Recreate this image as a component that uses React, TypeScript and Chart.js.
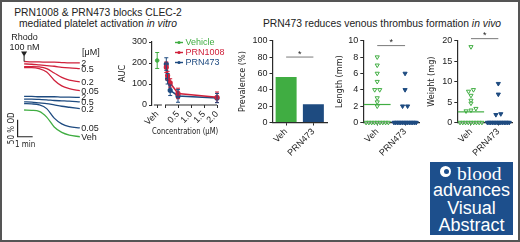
import React, { useEffect, useRef } from 'react';
import { Chart, registerables } from 'chart.js';

Chart.register(...registerables);

const GREEN = '#40ad42';
const RED = '#d0213b';
const BLUE = '#1e4b80';
const GREY = '#7a7a7a';
const AXIS = '#2b2b2b';
const TEXT = '#222222';
const SANS = '"Liberation Sans", Arial, Helvetica, sans-serif';
const NARROW = '"Liberation Sans Narrow", "DejaVu Sans Condensed", "Roboto Condensed", "Liberation Sans", sans-serif';

// ---------- Panel 1: aggregation traces (OD %, traces offset vertically) ----------
const traceTime = [0, 0.5, 1, 1.5, 2, 2.5, 3, 3.7]; // min after rhodocytin
const prn1008At2 = [267, 266, 266, 265, 265, 264, 263, 263];
const prn1008At05 = [260, 259, 257, 255, 253, 250, 248, 246];
const prn1008At02 = [252, 252, 251, 246, 233, 220, 212, 207];
const prn1008At005 = [249, 249, 246, 236, 212, 195, 187, 181];
const prn473At2 = [164, 164, 163, 163, 163, 162, 162, 161];
const prn473At05 = [156, 156, 155, 154, 152, 151, 150, 148];
const prn473At02 = [148, 147, 145, 143, 139, 135, 132, 128];
const prn473At005 = [143, 142, 139, 128, 100, 83, 75, 71];
const vehicleTrace = [124, 123, 120, 103, 74, 58, 50, 45];
const traceLabels = ['2', '0.5', '0.2', '0.05', '2', '0.5', '0.2', '0.05', 'Veh'];
const scaleBarMinutes = 1;
const scaleBarOD = 50;
const scaleBarBaseOD = 45;

// ---------- Panel 2: AUC vs concentration ----------
const aucConc = [0.05, 0.1, 0.2, 0.5, 2.0];
const aucPRN1008 = [180, 140, 105, 55, 37];
const aucPRN1008SD = [25, 20, 20, 25, 25];
const aucPRN473 = [195, 125, 70, 43, 33];
const aucPRN473SD = [30, 25, 25, 30, 22];
const aucVehicle = [212];
const aucVehicleSD = [38];
const aucVehPos = -0.3;
const aucXTicks = [-0.3, 0, 0.5, 1.0, 1.5, 2.0];
const aucXTickLabels = ['Veh', '', '0.5', '1.0', '1.5', '2.0'];

// ---------- Panels 3-5: in vivo ----------
const groups = ['Veh', 'PRN473'];
const prevalence = [55.6, 22.2];
const prevalenceSig = 80;
const lengthVeh = [8, 7, 6, 5, 4, 4, 3, 2.5, 2, 0, 0, 0, 0, 0, 0, 0, 0, 0];
const lengthPRN473 = [6, 4, 2, 2, 0, 0, 0, 0, 0, 0, 0, 0, 0, 0, 0, 0, 0, 0];
const lengthMeans = [2.2, 0];
const lengthSig = 9.4;
const weightVeh = [18.5, 8.0, 7.6, 6.6, 5.4, 4.7, 3.4, 3.0, 2.8, 0, 0, 0, 0, 0, 0, 0, 0, 0];
const weightPRN473 = [9.5, 6.9, 2.1, 1.9, 0, 0, 0, 0, 0, 0, 0, 0, 0, 0, 0, 0, 0, 0];
const weightMeans = [2.6, 0];
const weightSig = 20.5;

// ---------- helpers ----------
const tickFont = { size: 9, family: SANS };
const titleFont = { size: 9, family: NARROW };

function gridOpts() {
  return { display: true, drawOnChartArea: false, drawTicks: true, tickLength: 3, color: AXIS, tickColor: AXIS, tickWidth: 1 };
}

function yAxis(min: number, max: number, step: number, title: string, titlePad: number, width: number) {
  return {
    type: 'linear', min, max,
    ticks: { stepSize: step, color: TEXT, font: tickFont, padding: 2 },
    grid: gridOpts(),
    border: { display: true, color: AXIS, width: 1.2 },
    title: { display: true, text: title, color: TEXT, font: titleFont, padding: { top: titlePad, bottom: 0 } },
    afterFit: (s: any) => { s.width = width; },
  };
}

function groupXAxis(height: number) {
  return {
    type: 'linear', min: -0.5, max: 1.5,
    afterBuildTicks: (s: any) => { s.ticks = groups.map((_, i) => ({ value: i })); },
    ticks: { autoSkip: false, minRotation: 45, maxRotation: 45, padding: 1, color: TEXT, font: tickFont,
      callback: (v: any) => groups[v] ?? '' },
    grid: gridOpts(),
    border: { display: true, color: AXIS, width: 1.2 },
    afterFit: (s: any) => { s.height = height; },
  };
}

function swarm(values: number[], thresh: number) {
  const idx = values.map((_, i) => i).sort((a, b) => values[a] - values[b]);
  const out = new Array(values.length).fill(0);
  let row: number[] = [];
  const flush = () => {
    const n = row.length;
    const step = n > 1 ? Math.min(0.18, 0.8 / (n - 1)) : 0;
    row.forEach((id, k) => { out[id] = (k - (n - 1) / 2) * step; });
    row = [];
  };
  idx.forEach((id) => {
    if (row.length && values[id] - values[row[0]] > thresh) flush();
    row.push(id);
  });
  flush();
  return out;
}

function sigPlugin(value: number) {
  return {
    id: 'sig',
    afterDatasetsDraw(chart: any) {
      const { ctx, scales: { x, y } } = chart;
      const x0 = x.getPixelForValue(0);
      const x1 = x.getPixelForValue(1);
      const yy = y.getPixelForValue(value);
      ctx.save();
      ctx.strokeStyle = GREY;
      ctx.lineWidth = 1;
      ctx.beginPath();
      ctx.moveTo(x0, yy);
      ctx.lineTo(x1, yy);
      ctx.stroke();
      ctx.fillStyle = TEXT;
      ctx.font = `9px ${SANS}`;
      ctx.textAlign = 'center';
      ctx.textBaseline = 'middle';
      ctx.fillText('*', (x0 + x1) / 2, yy - 3);
      ctx.restore();
    },
  };
}

function meanPlugin(means: number[]) {
  return {
    id: 'means',
    afterDatasetsDraw(chart: any) {
      const { ctx, scales: { x, y } } = chart;
      ctx.save();
      ctx.lineWidth = 1.2;
      means.forEach((m, i) => {
        ctx.strokeStyle = i === 0 ? GREEN : BLUE;
        const yy = y.getPixelForValue(m);
        ctx.beginPath();
        ctx.moveTo(x.getPixelForValue(i - 0.48), yy);
        ctx.lineTo(x.getPixelForValue(i + 0.48), yy);
        ctx.stroke();
      });
      ctx.restore();
    },
  };
}

function ChartBox({ left, top, width, height, make }: { left: number; top: number; width: number; height: number; make: () => any }) {
  const ref = useRef<HTMLCanvasElement>(null);
  useEffect(() => {
    const chart = new Chart(ref.current as HTMLCanvasElement, make());
    return () => chart.destroy();
  }, []);
  return (
    <canvas ref={ref} width={width} height={height}
      style={{ position: 'absolute', left, top, width, height }} />
  );
}

const baseOptions = {
  animation: false,
  responsive: false,
  devicePixelRatio: 1,
  events: [],
  plugins: { legend: { display: false }, tooltip: { enabled: false } },
};

// ---------- chart factories ----------
function makeTraces() {
  const series = [
    [prn1008At2, RED], [prn1008At05, RED], [prn1008At02, RED], [prn1008At005, RED],
    [prn473At2, BLUE], [prn473At05, BLUE], [prn473At02, BLUE], [prn473At005, BLUE],
    [vehicleTrace, GREEN],
  ] as [number[], string][];
  const decor = {
    id: 'traceDecor',
    afterDatasetsDraw(chart: any) {
      const { ctx, scales: { x, y } } = chart;
      ctx.save();
      ctx.fillStyle = TEXT;
      ctx.font = `9px ${SANS}`;
      ctx.textBaseline = 'middle';
      ctx.textAlign = 'left';
      chart.data.datasets.forEach((_: any, i: number) => {
        const meta = chart.getDatasetMeta(i);
        const last = meta.data[meta.data.length - 1];
        ctx.fillText(traceLabels[i], last.x + 1.5, last.y + 0.5);
      });
      const x0 = x.getPixelForValue(0);
      const topY = y.getPixelForValue(prn1008At2[0]);
      ctx.fillText('[\u03bcM]', x0 + 58, topY - 9);
      ctx.textAlign = 'center';
      ctx.fillText('Rhodo', x0 + 0.5, topY - 24.5);
      ctx.fillText('100 nM', x0 + 0.5, topY - 14.5);
      ctx.beginPath();
      ctx.moveTo(x0 - 3, topY - 10);
      ctx.lineTo(x0 + 3, topY - 10);
      ctx.lineTo(x0, topY - 5);
      ctx.closePath();
      ctx.fill();
      ctx.fillRect(x0 - 0.5, topY - 6, 1, 6);
      // scale bar
      const bx = x0 - 6.5;
      const bBottom = y.getPixelForValue(scaleBarBaseOD);
      const bTop = y.getPixelForValue(scaleBarBaseOD + scaleBarOD);
      const bRight = x.getPixelForValue(x.getValueForPixel(bx) + scaleBarMinutes);
      ctx.strokeStyle = TEXT;
      ctx.lineWidth = 1.2;
      ctx.beginPath();
      ctx.moveTo(bx, bTop);
      ctx.lineTo(bx, bBottom);
      ctx.lineTo(bRight, bBottom);
      ctx.stroke();
      ctx.font = `8px ${NARROW}`;
      ctx.fillText('1 min', (bx + bRight) / 2, bBottom + 8);
      ctx.translate(bx - 5.5, (bTop + bBottom) / 2);
      ctx.rotate(-Math.PI / 2);
      ctx.fillText('50 % OD', 0, 0);
      ctx.restore();
    },
  };
  return {
    type: 'line',
    data: {
      datasets: series.map(([vals, color]) => ({
        data: vals.map((v, i) => ({ x: traceTime[i], y: v })),
        borderColor: color, borderWidth: 1.3, pointRadius: 0,
        cubicInterpolationMode: 'monotone', fill: false, clip: false,
      })),
    },
    options: {
      ...baseOptions,
      layout: { padding: 0 },
      scales: {
        x: { type: 'linear', display: false, min: -1.6, max: 6.7 },
        y: { type: 'linear', display: false, min: 0, max: 360 },
      },
    },
    plugins: [decor],
  };
}

function makeAUC() {
  const sds = [aucVehicleSD, aucPRN1008SD, aucPRN473SD];
  const legendItems: [string, string][] = [['Vehicle', GREEN], ['PRN1008', RED], ['PRN473', BLUE]];
  const decor = {
    id: 'aucDecor',
    afterDatasetsDraw(chart: any) {
      const { ctx, scales: { x, y }, chartArea } = chart;
      ctx.save();
      chart.data.datasets.forEach((ds: any, i: number) => {
        const meta = chart.getDatasetMeta(i);
        ctx.strokeStyle = ds.borderColor;
        ctx.lineWidth = 1;
        meta.data.forEach((pt: any, j: number) => {
          const v = ds.data[j].y;
          const e = sds[i][j];
          const yt = y.getPixelForValue(v + e);
          const yb = y.getPixelForValue(v - e);
          ctx.beginPath();
          ctx.moveTo(pt.x, yt); ctx.lineTo(pt.x, yb);
          ctx.moveTo(pt.x - 2, yt); ctx.lineTo(pt.x + 2, yt);
          ctx.moveTo(pt.x - 2, yb); ctx.lineTo(pt.x + 2, yb);
          ctx.stroke();
        });
      });
      ctx.strokeStyle = AXIS;
      ctx.lineWidth = 1.2;
      const yy = chartArea.bottom;
      ctx.beginPath();
      ctx.moveTo(x.getPixelForValue(-0.43), yy); ctx.lineTo(x.getPixelForValue(-0.12), yy);
      ctx.moveTo(x.getPixelForValue(0), yy); ctx.lineTo(x.getPixelForValue(2.0), yy);
      ctx.stroke();
      ctx.font = `9px ${SANS}`;
      ctx.textBaseline = 'middle';
      ctx.textAlign = 'left';
      legendItems.forEach(([label, color], i) => {
        const ly = chartArea.top + 0.5 + i * 10;
        const lx = chartArea.left + 23;
        ctx.strokeStyle = color;
        ctx.fillStyle = color;
        ctx.lineWidth = 1.4;
        ctx.beginPath(); ctx.moveTo(lx, ly); ctx.lineTo(lx + 8, ly); ctx.stroke();
        ctx.beginPath(); ctx.arc(lx + 4, ly, 1.6, 0, Math.PI * 2); ctx.fill();
        ctx.fillText(label, lx + 10.5, ly + 0.5);
      });
      ctx.restore();
    },
  };
  return {
    type: 'line',
    data: {
      datasets: [
        { data: aucVehicle.map((v) => ({ x: aucVehPos, y: v })), borderColor: GREEN, backgroundColor: GREEN,
          pointRadius: 1.8, showLine: false, clip: false },
        { data: aucPRN1008.map((v, i) => ({ x: aucConc[i], y: v })), borderColor: RED, backgroundColor: RED,
          borderWidth: 1.6, pointRadius: 1.8, tension: 0, clip: false },
        { data: aucPRN473.map((v, i) => ({ x: aucConc[i], y: v })), borderColor: BLUE, backgroundColor: BLUE,
          borderWidth: 1.6, pointRadius: 1.8, tension: 0, clip: false },
      ],
    },
    options: {
      ...baseOptions,
      layout: { padding: { left: 0, top: 12, right: 11.7, bottom: 0 } },
      scales: {
        x: {
          type: 'linear', min: -0.5, max: 2.05,
          afterBuildTicks: (s: any) => { s.ticks = aucXTicks.map((v) => ({ value: v })); },
          ticks: { autoSkip: false, minRotation: 45, maxRotation: 45, padding: 1, color: TEXT, font: tickFont,
            callback: (v: any) => { const k = aucXTicks.indexOf(v); return k >= 0 ? aucXTickLabels[k] : ''; } },
          grid: gridOpts(),
          border: { display: false },
          title: { display: true, text: 'Concentration (\u03bcM)', color: TEXT, font: titleFont, padding: { top: 0, bottom: 7.6 } },
          afterFit: (s: any) => { s.height = 40; },
        },
        y: yAxis(0, 300, 100, 'AUC', 12.6, 47),
      },
    },
    plugins: [decor],
  };
}

function makePrevalence() {
  return {
    type: 'bar',
    data: {
      labels: groups,
      datasets: [{ data: prevalence, backgroundColor: [GREEN, BLUE], categoryPercentage: 1, barPercentage: 0.77, borderWidth: 0 }],
    },
    options: {
      ...baseOptions,
      layout: { padding: { left: 0, top: 10.7, right: 3, bottom: 0 } },
      scales: {
        x: {
          type: 'category', offset: true,
          ticks: { autoSkip: false, minRotation: 45, maxRotation: 45, padding: 1, color: TEXT, font: tickFont },
          grid: { ...gridOpts(), offset: false },
          border: { display: true, color: AXIS, width: 1.2 },
          afterFit: (s: any) => { s.height = 35.5; },
        },
        y: yAxis(0, 100, 20, 'Prevalence (%)', 5.6, 40.5),
      },
    },
    plugins: [sigPlugin(prevalenceSig)],
  };
}

function makeScatter(vehVals: number[], prnVals: number[], thresh: number, max: number, step: number,
  title: string, titlePad: number, width: number, means: number[], sig: number) {
  const vOff = swarm(vehVals, thresh);
  const pOff = swarm(prnVals, thresh);
  return {
    type: 'scatter',
    data: {
      datasets: [
        { data: vehVals.map((v, i) => ({ x: 0 + vOff[i], y: v })), pointStyle: 'triangle', rotation: 180,
          pointRadius: 2.4, borderWidth: 1, borderColor: GREEN, backgroundColor: 'rgba(255,255,255,0.6)', clip: false },
        { data: prnVals.map((v, i) => ({ x: 1 + pOff[i], y: v })), pointStyle: 'triangle', rotation: 180,
          pointRadius: 2.4, borderWidth: 1, borderColor: BLUE, backgroundColor: BLUE, clip: false },
      ],
    },
    options: {
      ...baseOptions,
      layout: { padding: { left: 0, top: 10.7, right: 0, bottom: 0 } },
      scales: {
        x: groupXAxis(35.5),
        y: yAxis(0, max, step, title, titlePad, width),
      },
    },
    plugins: [meanPlugin(means), sigPlugin(sig)],
  };
}

export default function App() {
  return (
    <div style={{ position: 'absolute', left: 0, top: 0, width: 520, height: 242, background: '#fff', overflow: 'hidden', fontFamily: SANS, color: TEXT }}>
      <div style={{ position: 'absolute', left: 0, width: 196, top: 6.5, textAlign: 'center', fontSize: 10.3, lineHeight: '11.6px' }}>
        PRN1008 &amp; PRN473 blocks CLEC-2<br />mediated platelet activation <i>in vitro</i>
      </div>
      <div style={{ position: 'absolute', left: 232, width: 300, top: 18, textAlign: 'center', fontSize: 10.3, lineHeight: '12px' }}>
        PRN473 reduces venous thrombus formation <i>in vivo</i>
      </div>

      <ChartBox left={0} top={30} width={125} height={122} make={makeTraces} />
      <ChartBox left={105} top={30} width={125} height={115} make={makeAUC} />
      <ChartBox left={232} top={30} width={98} height={128} make={makePrevalence} />
      <ChartBox left={332} top={30} width={92} height={128}
        make={() => makeScatter(lengthVeh, lengthPRN473, 0.35, 10, 2, 'Length (mm)', 2.6, 31.3, lengthMeans, lengthSig)} />
      <ChartBox left={425} top={30} width={92} height={128}
        make={() => makeScatter(weightVeh, weightPRN473, 0.7, 20, 5, 'Weight (mg)', 1.3, 32.3, weightMeans, weightSig)} />

      <div style={{ position: 'absolute', left: 430, top: 162, width: 83, height: 73, background: '#1d4f8c', color: '#fff' }}>
        <div style={{ position: 'absolute', left: 9.5, top: 4, width: 11, height: 11, borderRadius: '50%', background: '#fff' }}>
          <div style={{ position: 'absolute', left: 4, top: 2.5, width: 5, height: 5, borderRadius: '50%', background: '#1d4f8c' }} />
        </div>
        <div style={{ position: 'absolute', left: 27, top: 0, fontFamily: '"Liberation Serif", "Times New Roman", serif', fontSize: 19.5, lineHeight: '24px' }}>blood</div>
        <div style={{ position: 'absolute', left: 0, width: 83, top: 18, textAlign: 'center', fontSize: 18, lineHeight: '20px' }}>advances</div>
        <div style={{ position: 'absolute', left: 0, width: 83, top: 36, textAlign: 'center', fontSize: 18, lineHeight: '20px' }}>Visual</div>
        <div style={{ position: 'absolute', left: 0, width: 83, top: 53, textAlign: 'center', fontSize: 18, lineHeight: '20px' }}>Abstract</div>
      </div>

      <div style={{ position: 'absolute', left: 0, top: 0, width: 520, height: 242, boxSizing: 'border-box', border: '2px solid #555', pointerEvents: 'none' }} />
    </div>
  );
}
